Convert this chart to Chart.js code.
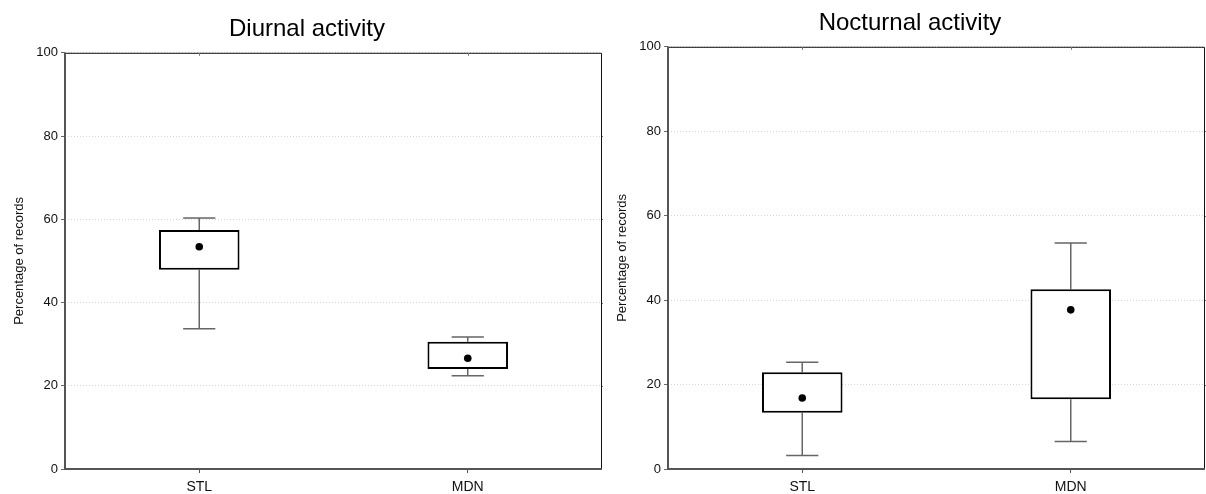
<!DOCTYPE html>
<html>
<head>
<meta charset="utf-8">
<title>Diurnal and nocturnal activity</title>
<script src="https://cdn.jsdelivr.net/npm/chart.js@4.4.1/dist/chart.umd.min.js"></script>
<style>
  body { margin: 0; background: #fff; }
  .row { display: flex; width: 1206px; height: 494px; }
  canvas { display: block; }
</style>
</head>
<body>
<div class="row">
  <canvas id="dayChart" width="603" height="494"></canvas>
  <canvas id="nightChart" width="603" height="494"></canvas>
</div>
<script>
// categories and box statistics (percentage of records)
const categories = ['STL', 'MDN'];
const gridValues = [20, 40, 60, 80];

const dayMin    = [33.7, 22.4];
const dayQ1     = [47.9, 24.0];
const dayMedian = [53.4, 26.6];
const dayQ3     = [57.4, 30.6];
const dayMax    = [60.3, 31.7];

const nightMin    = [3.2, 6.5];
const nightQ1     = [13.3, 16.5];
const nightMedian = [16.8, 37.7];
const nightQ3     = [22.9, 42.6];
const nightMax    = [25.3, 53.5];

Chart.defaults.font.family = '"Liberation Sans", Arial, sans-serif';
Chart.defaults.color = '#111';

// whiskers go under the boxes, the frame goes over everything
function boxExtras(s) {
  return {
    id: 'boxExtras',
    beforeDatasetsDraw(chart) {
      const { ctx, scales: { x, y } } = chart;
      const step = x.getPixelForValue(1) - x.getPixelForValue(0);
      const cap = step * 0.06;
      ctx.save();
      ctx.strokeStyle = '#666';
      ctx.lineWidth = 1.5;
      categories.forEach((c, i) => {
        const cx = x.getPixelForValue(i);
        [[s.max[i], s.q3[i]], [s.min[i], s.q1[i]]].forEach(([end, edge]) => {
          const ye = y.getPixelForValue(end);
          const yb = y.getPixelForValue(edge);
          ctx.beginPath();
          ctx.moveTo(cx, yb);
          ctx.lineTo(cx, ye);
          ctx.moveTo(cx - cap, ye);
          ctx.lineTo(cx + cap, ye);
          ctx.stroke();
        });
      });
      ctx.restore();
    },
    afterDraw(chart) {
      const { ctx, chartArea: { left, top, right, bottom }, scales: { x, y } } = chart;
      ctx.save();
      ctx.strokeStyle = '#111';
      ctx.lineWidth = 1;
      ctx.beginPath();
      ctx.moveTo(left, top + 0.5);
      ctx.lineTo(right - 0.5, top + 0.5);
      ctx.lineTo(right - 0.5, bottom);
      ctx.stroke();
      ctx.strokeStyle = '#555';
      ctx.lineWidth = 2;
      ctx.beginPath();
      ctx.moveTo(left, top);
      ctx.lineTo(left, bottom);
      ctx.lineTo(right, bottom);
      ctx.stroke();
      // small marks on the top and right edges
      ctx.lineWidth = 1;
      ctx.strokeStyle = '#777';
      ctx.beginPath();
      categories.forEach((c, i) => {
        const cx = Math.round(x.getPixelForValue(i)) + 0.5;
        ctx.moveTo(cx, top);
        ctx.lineTo(cx, top + 3);
      });
      gridValues.forEach(v => {
        const yy = Math.round(y.getPixelForValue(v)) + 0.5;
        ctx.moveTo(right, yy);
        ctx.lineTo(right + 4, yy);
      });
      ctx.stroke();
      ctx.restore();
    }
  };
}

function boxChart(id, title, titlePadding, s) {
  return new Chart(document.getElementById(id), {
    type: 'bar',
    data: {
      labels: categories,
      datasets: [
        {
          type: 'line',
          data: s.median,
          showLine: false,
          pointRadius: 3.8,
          pointHoverRadius: 3.8,
          pointBackgroundColor: '#000',
          pointBorderWidth: 0,
          order: 0
        },
        {
          data: s.q1.map((v, i) => [v, s.q3[i]]),
          backgroundColor: '#fff',
          borderColor: '#000',
          borderWidth: 2,
          borderSkipped: false,
          barPercentage: 0.3,
          categoryPercentage: 1,
          order: 1
        }
      ]
    },
    options: {
      responsive: false,
      animation: false,
      events: [],
      layout: { autoPadding: false, padding: { left: 12, right: 1, top: 0, bottom: 0 } },
      plugins: {
        legend: { display: false },
        tooltip: { enabled: false },
        title: {
          display: true,
          text: title,
          color: '#000',
          font: { size: 24, weight: 'normal' },
          padding: titlePadding
        }
      },
      scales: {
        x: {
          grid: { offset: false, drawOnChartArea: false, tickLength: 4, tickColor: '#555' },
          border: { display: false },
          ticks: { padding: 6, font: { size: 14 }, color: '#111' },
          afterFit: sc => { sc.height = 25; }
        },
        y: {
          min: 0,
          max: 100,
          ticks: { stepSize: 20, padding: 3, font: { size: 13 }, color: '#111' },
          grid: { color: '#d6d6d6', tickColor: '#666', tickLength: 4, tickBorderDash: [] },
          border: { display: false, dash: [1, 2] },
          title: {
            display: true,
            text: 'Percentage of records',
            font: { size: 13 },
            color: '#111',
            padding: { top: 0, bottom: 0 }
          },
          afterFit: sc => { sc.width = 53; }
        }
      }
    },
    plugins: [boxExtras(s)]
  });
}

boxChart('dayChart', 'Diurnal activity', { top: 15, bottom: 9 },
  { min: dayMin, q1: dayQ1, median: dayMedian, q3: dayQ3, max: dayMax });
boxChart('nightChart', 'Nocturnal activity', { top: 9, bottom: 9 },
  { min: nightMin, q1: nightQ1, median: nightMedian, q3: nightQ3, max: nightMax });
</script>
</body>
</html>
